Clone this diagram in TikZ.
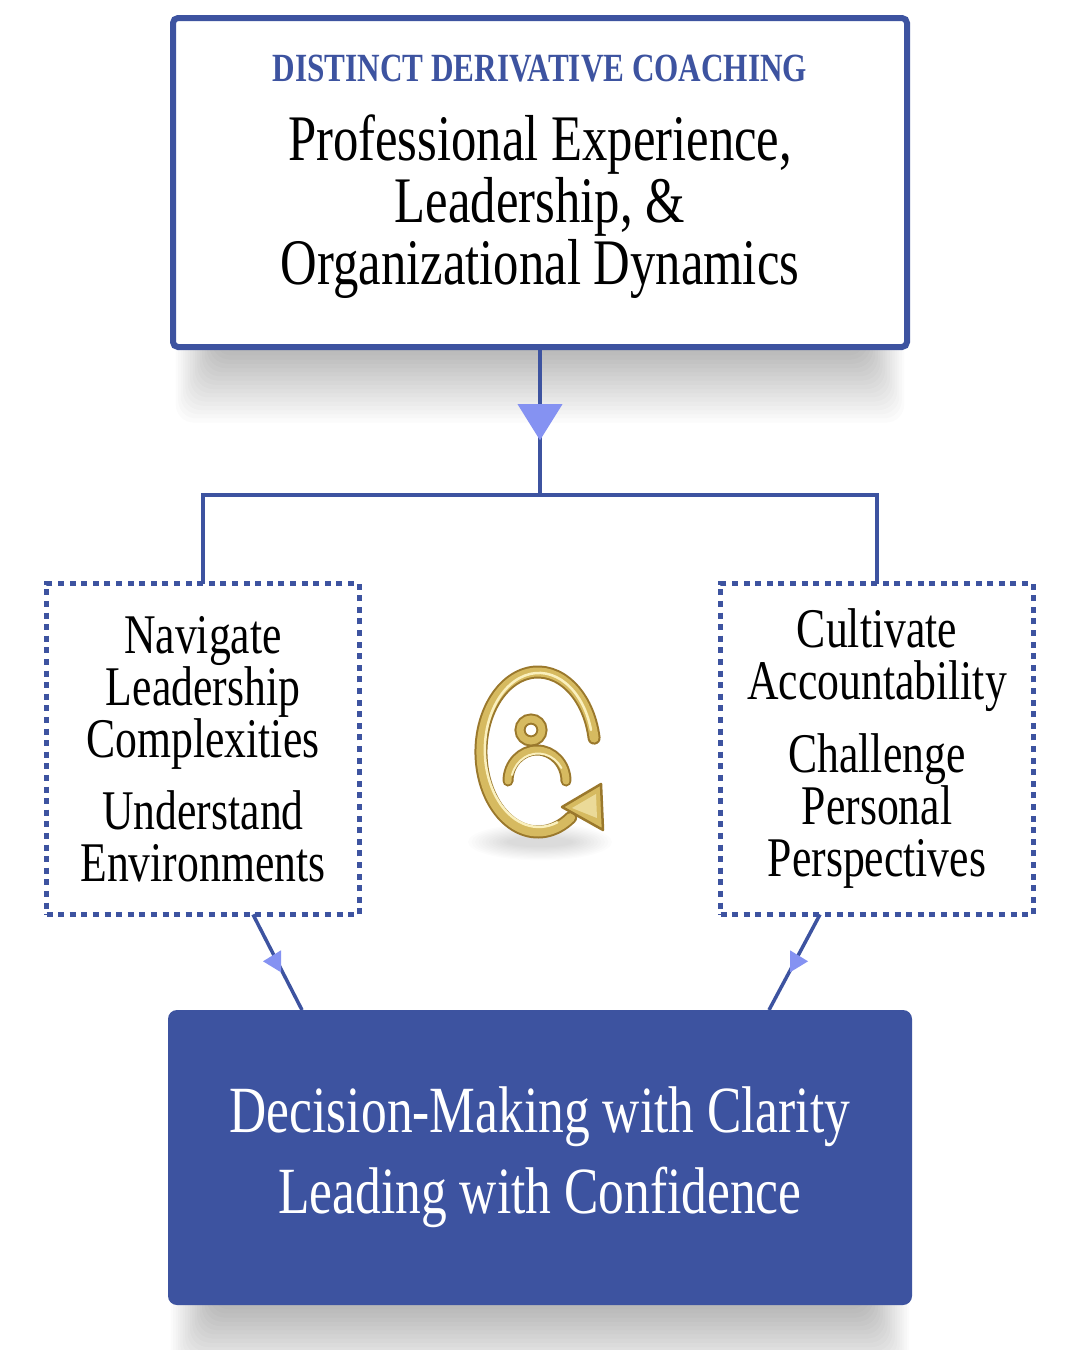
\documentclass[tikz,border=0pt]{standalone}
\usepackage{fontspec}
\setmainfont{Liberation Serif}[FakeStretch=0.78]
\usepackage{tikz}
\usetikzlibrary{positioning,decorations.markings,arrows.meta}

\definecolor{ddblue}{HTML}{3D53A0}
\definecolor{ddtip}{HTML}{8592F2}
\definecolor{golddark}{HTML}{9A782C}
\definecolor{goldmid}{HTML}{D6BA60}
\definecolor{goldlight}{HTML}{FAF0BE}

\pgfdeclarelayer{background}
\pgfsetlayers{background,main}

% soft shadow under a box: stacked faint rectangles
\newcommand{\softshadow}[1]{%
  \begin{pgfonlayer}{background}
  \foreach \k in {1,...,18}
    \fill[black, opacity=0.0145, rounded corners=18pt] ([xshift=46pt-2.4*\k pt]#1.west) rectangle ([xshift=-46pt+2.4*\k pt, yshift=-4.2*\k pt]#1.south east);
  \end{pgfonlayer}}

\tikzset{
  topbox/.style = {draw=ddblue, line width=6pt, rounded corners=5pt, fill=white, outer sep=0pt, minimum width=734pt, minimum height=329pt},
  sidebox/.style = {draw=ddblue, line width=5pt, dash pattern=on 6pt off 5.6pt, outer sep=0pt, inner sep=0pt, minimum width=313pt, minimum height=331pt, align=center, font=\fontsize{56}{52}\selectfont},
  endbox/.style = {fill=ddblue, rounded corners=9pt, outer sep=0pt, inner sep=0pt, minimum width=744pt, minimum height=295pt, align=center, text=white, font=\fontsize{66}{81}\selectfont},
  link/.style = {draw=ddblue, line width=3.5pt},
  gold/.style = {draw=goldmid, line width=9pt, line cap=round},
}

\begin{document}
\begin{tikzpicture}[x = 1pt, y = -1pt]
\path[use as bounding box] (0,0) rectangle (1080,1350);
\begin{pgfonlayer}{background}
\fill[white] (0,0) rectangle (1080,1350);
\end{pgfonlayer}

% boxes
\node[topbox] (top) at (540,182.5) {};
\softshadow{top}
\node[inner sep=0pt, align=center, font=\fontsize{65}{62}\selectfont] (title) at (540,207) {Professional Experience,\\Leadership, \&\\Organizational Dynamics};
\node[inner sep=0pt, text=ddblue, font=\fontsize{40}{44}\selectfont\bfseries, above=33pt of title] (head) {DISTINCT DERIVATIVE COACHING};

\node[sidebox] (left) at (203,749) {Navigate\\Leadership\\Complexities\\[20pt]Understand\\Environments};
\node[sidebox] (right) at (877,749) {Cultivate\\Accountability\\[21pt]Challenge\\Personal\\Perspectives};

\node[endbox] (goal) at (540,1157.5) {Decision-Making with Clarity\\Leading with Confidence};
\softshadow{goal}

% connectors
\coordinate (split) at (540,495);
\draw[link, postaction={decorate}, decoration={markings, mark=at position 0.63 with {\arrow[color=ddtip]{Triangle[length=36pt, width=44pt]}}}] (top.south) -- (split);
\draw[link] (left.north) |- (split) -| (right.north);

\draw[link] ([xshift=50pt]left.south) -- coordinate[pos=0.49] (lmid) ([xshift=-238pt]goal.north);
\draw[link] ([xshift=-57pt]right.south) -- coordinate[pos=0.49] (rmid) ([xshift=229pt]goal.north);
\fill[ddtip] (lmid) ++(-14,0) -- ++(18,-11) -- ++(0,22) -- cycle;
\fill[ddtip] (rmid) ++(13,0) -- ++(-18,-11) -- ++(0,22) -- cycle;

% icon
\begin{scope}[shift={(538,752)}, yscale=-1]
\foreach \k in {1,...,12}
  \fill[black, opacity=0.012] (2,-90) ellipse[x radius=30+3.5*\k, y radius=4+1.2*\k];
\draw[gold, draw=golddark, line width=13pt] (56.1,13.9) arc[start angle=10, end angle=305, x radius=57, y radius=80];
\draw[gold] (56.1,13.9) arc[start angle=10, end angle=305, x radius=57, y radius=80];
\draw[draw=goldlight, line width=2.5pt, line cap=round] (53,22) arc[start angle=15, end angle=290, x radius=54, y radius=77];
\fill[goldmid, draw=golddark, line width=2.5pt, line join=round] (24,-55) -- (63,-32) -- (65,-78) -- cycle;
\fill[goldlight, opacity=.6] (34,-56) -- (58,-42) -- (59,-66) -- cycle;
\draw[gold, draw=golddark, line width=11pt] (-7,22) circle[radius=11];
\draw[gold, line width=7pt] (-7,22) circle[radius=11];
\draw[gold, draw=golddark, line width=11pt] (-30,-29) arc[start angle=180, end angle=0, x radius=29, y radius=31];
\draw[gold, line width=7pt] (-30,-29) arc[start angle=180, end angle=0, x radius=29, y radius=31];
\draw[draw=goldlight, line width=2pt, line cap=round] (-26,-23) arc[start angle=165, end angle=30, x radius=27, y radius=29];
\end{scope}
\end{tikzpicture}
\end{document}
